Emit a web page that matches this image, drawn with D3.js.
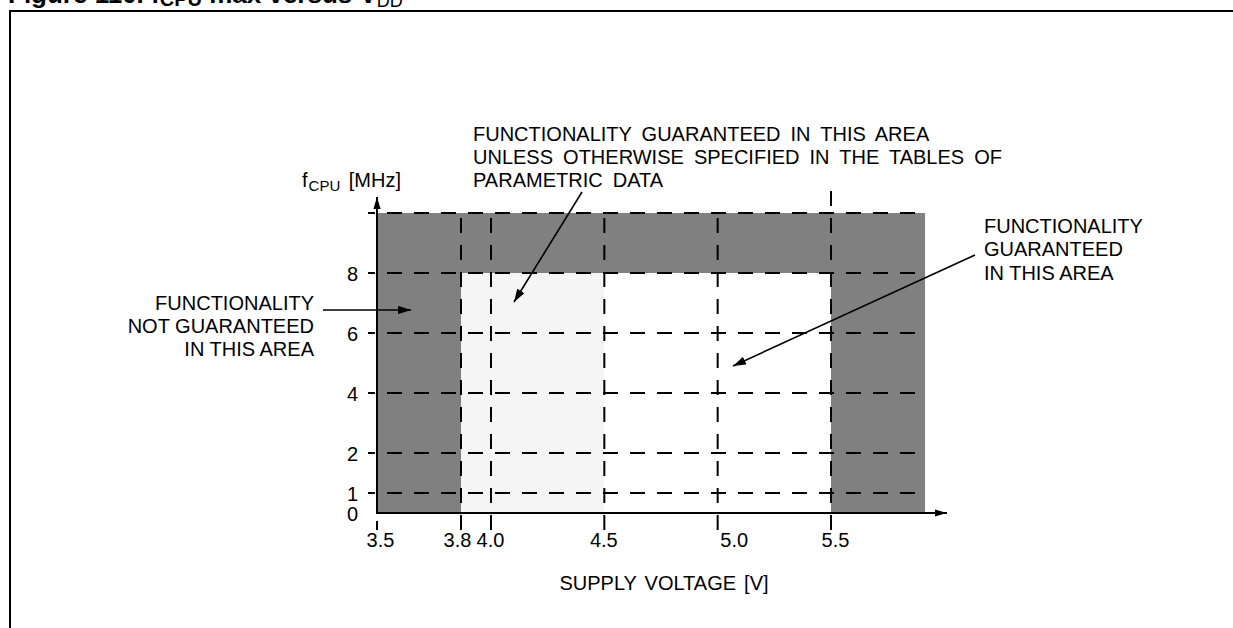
<!DOCTYPE html>
<html>
<head>
<meta charset="utf-8">
<script src="https://cdn.jsdelivr.net/npm/d3@7"></script>
<style>
  html, body { margin: 0; padding: 0; background: #fff; overflow: hidden; }
  svg { display: block; font-family: 'Liberation Sans', Arial, sans-serif; }
</style>
</head>
<body>
<svg id="chart" width="1233" height="628"></svg>
<script>
// ---- data ----
const voltageTicks = [3.5, 3.8, 4.0, 4.5, 5.0, 5.5];
const voltageLabels = ["3.5", "3.8", "4.0", "4.5", "5.0", "5.5"];
const freqTicks = [0, 1, 2, 4, 6, 8];
const freqLabels = ["0", "1", "2", "4", "6", "8"];
const gridVoltages = [3.8, 4.0, 4.5, 5.0, 5.5];
const gridFreqs = [1, 2, 4, 6, 8, 10];
const fTop = 10;          // top of the frequency range (unlabelled)
const vEnd = 5.915;       // right end of shaded area
const notGuaranteed = [   // dark grey areas [v0, v1, f0, f1]
  [3.5, 3.8, 0, 10],
  [3.8, 5.915, 8, 10],
  [5.5, 5.915, 0, 8]
];
const parametric = [      // light grey area
  [3.8, 4.5, 0, 8]
];

// ---- scales (piecewise, as drawn in the figure) ----
const x = d3.scaleLinear().domain([3.5, 3.8, 4.0, 5.5]).range([377, 461, 491, 831]);
const y = d3.scaleLinear().domain([0, 1, 2, 10]).range([513, 493, 453, 213]);

const svg = d3.select("#chart");
const FS = 20;
const DASH = "15,12";

// frame
svg.append("line").attr("x1", 9).attr("x2", 1233).attr("y1", 11).attr("y2", 11)
  .attr("stroke", "#000").attr("stroke-width", 2);
svg.append("line").attr("x1", 10).attr("x2", 10).attr("y1", 10).attr("y2", 628)
  .attr("stroke", "#000").attr("stroke-width", 2);

// title (mostly cut off at top, as in the reference)
const title = svg.append("text").attr("x", 8).attr("y", 3)
  .attr("font-size", 26).attr("font-weight", "bold").attr("fill", "#000");
title.append("tspan").text("Figure 110. f");
title.append("tspan").attr("font-size", 20).attr("dy", 3).text("CPU");
title.append("tspan").attr("dy", -3).text(" max versus V");
title.append("tspan").attr("font-size", 18).attr("font-weight", "normal").attr("dy", 4).text("DD");

// regions
svg.append("g").selectAll("rect").data(notGuaranteed).join("rect")
  .attr("x", d => x(d[0])).attr("width", d => x(d[1]) - x(d[0]))
  .attr("y", d => y(d[3])).attr("height", d => y(d[2]) - y(d[3]))
  .attr("fill", "#808080");
svg.append("g").selectAll("rect").data(parametric).join("rect")
  .attr("x", d => x(d[0])).attr("width", d => x(d[1]) - x(d[0]))
  .attr("y", d => y(d[3])).attr("height", d => y(d[2]) - y(d[3]))
  .attr("fill", "#f5f5f5");

// horizontal dashed grid
svg.append("g").selectAll("line").data(gridFreqs).join("line")
  .attr("x1", x(3.5) - 9).attr("x2", x(vEnd))
  .attr("y1", d => y(d)).attr("y2", d => y(d))
  .attr("stroke", "#000").attr("stroke-width", 2)
  .attr("stroke-dasharray", DASH).attr("stroke-dashoffset", 8);

// vertical dashed grid (extends below axis as tick)
svg.append("g").selectAll("line").data(gridVoltages).join("line")
  .attr("x1", d => x(d)).attr("x2", d => x(d))
  .attr("y1", 530)
  .attr("y2", d => d === 5.5 ? y(fTop) - 30 : y(fTop))
  .attr("stroke", "#000").attr("stroke-width", 2)
  .attr("stroke-dasharray", DASH);

// tick at 3.5
svg.append("line").attr("x1", x(3.5)).attr("x2", x(3.5)).attr("y1", 521).attr("y2", 530)
  .attr("stroke", "#000").attr("stroke-width", 2);

// axes lines with arrows
const defs = svg.append("defs");
function marker(id, len, hw) {
  defs.append("marker").attr("id", id).attr("viewBox", `0 ${-hw} ${len} ${2*hw}`)
    .attr("refX", len).attr("refY", 0).attr("markerUnits", "userSpaceOnUse")
    .attr("markerWidth", len).attr("markerHeight", 2*hw).attr("orient", "auto")
    .append("path").attr("d", `M0,${-hw}L${len},0L0,${hw}Z`).attr("fill", "#000");
}
marker("axArrow", 12, 3.6);
marker("annArrow", 13, 4.2);

svg.append("line").attr("x1", x(3.5)).attr("x2", x(3.5)).attr("y1", y(0) + 1).attr("y2", 197)
  .attr("stroke", "#000").attr("stroke-width", 2).attr("marker-end", "url(#axArrow)");
svg.append("line").attr("x1", x(3.5) - 1).attr("x2", 947).attr("y1", y(0)).attr("y2", y(0))
  .attr("stroke", "#000").attr("stroke-width", 2).attr("marker-end", "url(#axArrow)");

// axis labels via d3 axes
const yAxis = d3.axisLeft(y).tickValues(freqTicks).tickSize(0).tickPadding(19)
  .tickFormat((d, i) => freqLabels[i]);
const gy = svg.append("g").attr("transform", `translate(${x(3.5)},0)`).call(yAxis);
gy.select(".domain").remove();
gy.selectAll("text").attr("font-size", FS).attr("font-family", "'Liberation Sans', Arial, sans-serif")
  .attr("fill", "#000").attr("dy", "0.35em");

const labelShift = { "3.5": 3, "3.8": -4, "4.0": -1, "4.5": -1, "5.0": 16, "5.5": 4 };
const xAxis = d3.axisBottom(x).tickValues(voltageTicks).tickSize(0).tickPadding(20)
  .tickFormat((d, i) => voltageLabels[i]);
const gx = svg.append("g").attr("transform", `translate(0,${y(0)})`).call(xAxis);
gx.select(".domain").remove();
gx.selectAll("text").attr("font-size", FS).attr("font-family", "'Liberation Sans', Arial, sans-serif")
  .attr("fill", "#000").attr("dx", (d, i) => labelShift[voltageLabels[i]]);

// axis titles
const yt = svg.append("text").attr("x", 302).attr("y", 187).attr("font-size", FS).attr("fill", "#000");
yt.append("tspan").text("f");
yt.append("tspan").attr("font-size", 15).attr("dy", 4).attr("dx", 1).text("CPU");
yt.append("tspan").attr("dy", -4).attr("dx", 3).text(" [MHz]");

svg.append("text").attr("x", 664).attr("y", 590).attr("text-anchor", "middle")
  .attr("font-size", FS).attr("word-spacing", 2.5).attr("fill", "#000").text("SUPPLY VOLTAGE [V]");

// annotations
function multiline(xp, yp, lines, anchor, ws) {
  const t = svg.append("text").attr("x", xp).attr("y", yp).attr("font-size", FS)
    .attr("fill", "#000").attr("text-anchor", anchor).attr("word-spacing", ws);
  lines.forEach((l, i) => t.append("tspan").attr("x", xp).attr("dy", i === 0 ? 0 : 23.3).text(l));
}
multiline(473, 140.5, ["FUNCTIONALITY GUARANTEED IN THIS AREA",
  "UNLESS OTHERWISE SPECIFIED IN THE TABLES OF", "PARAMETRIC DATA"], "start", 4.5);
multiline(314, 309.5, ["FUNCTIONALITY", "NOT GUARANTEED", "IN THIS AREA"], "end", 0);
multiline(984, 233, ["FUNCTIONALITY", "GUARANTEED", "IN THIS AREA"], "start", 0);

const arrows = [
  [323, 310, 411, 310],
  [582, 192, 514, 302],
  [975, 255, 733, 366]
];
svg.append("g").selectAll("line").data(arrows).join("line")
  .attr("x1", d => d[0]).attr("y1", d => d[1]).attr("x2", d => d[2]).attr("y2", d => d[3])
  .attr("stroke", "#000").attr("stroke-width", 1.6).attr("marker-end", "url(#annArrow)");
</script>
</body>
</html>
